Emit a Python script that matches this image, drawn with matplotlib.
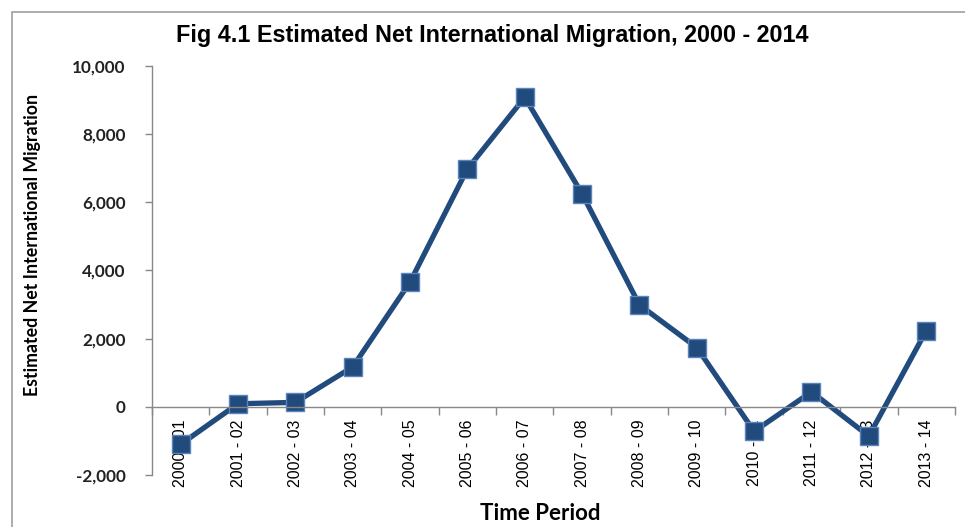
import matplotlib.pyplot as plt
from matplotlib.patches import Rectangle
from matplotlib.ticker import FuncFormatter, FixedLocator

# ------------ data ----------
periods = ["2000 - 01", "2001 - 02", "2002 - 03", "2003 - 04", "2004 - 05",
           "2005 - 06", "2006 - 07", "2007 - 08", "2008 - 09", "2009 - 10",
           "2010 - 11", "2011 - 12", "2012 - 13", "2013 - 14"]
net_migration = [-1100, 90, 130, 1170, 3660, 6980, 9080, 6250, 2990, 1740,
                 -720, 440, -860, 2230]
y_ticks = [-2000, 0, 2000, 4000, 6000, 8000, 10000]

line_color = "#214a7d"
axis_color = "#888888"

fig = plt.figure(figsize=(9.65, 5.27), dpi=100)
ax = fig.add_axes([0.1575, 0.0987, 0.832, 0.7761])

x = list(range(len(periods)))
ax.plot(x, net_migration, color=line_color, lw=3.8, marker="s", ms=12.5,
        mfc=line_color, mec="#5a84bb", mew=1.0, solid_joinstyle="miter")

ax.set_xlim(-0.5, len(periods) - 0.5)
ax.set_ylim(-2000, 10000)

# y axis
ax.yaxis.set_major_locator(FixedLocator(y_ticks))
ax.yaxis.set_major_formatter(FuncFormatter(lambda v, p: f"{int(v):,}"))
ax.tick_params(axis="y", direction="out", length=5, width=1, color=axis_color,
               pad=14, labelsize=12.3, labelcolor="#222222")
for lab in ax.get_yticklabels():
    lab.set_fontfamily("Lato")
    lab.set_fontweight("bold")

# x axis sits on zero, marks between categories
ax.spines["bottom"].set_position(("data", 0))
ax.set_xticks(x)
ax.set_xticklabels(periods, rotation=90, fontsize=11.5, family="Liberation Sans",
                   va="top")
ax.set_xticks([i - 0.5 for i in range(len(periods) + 1)], minor=True)
ax.tick_params(axis="x", which="major", length=0, pad=9)
ax.tick_params(axis="x", which="minor", direction="out", length=6, width=1,
               color=axis_color)

for s in ["top", "right"]:
    ax.spines[s].set_visible(False)
for s in ["left", "bottom"]:
    ax.spines[s].set_color(axis_color)
    ax.spines[s].set_linewidth(1)

# titles
fig.text(0.51, 0.933, "Fig 4.1 Estimated Net International Migration, 2000 - 2014",
         ha="center", va="center", fontsize=16.8, fontweight="bold",
         family="Liberation Sans")
fig.text(0.034, 0.535, "Estimated Net International Migration", rotation=90,
         ha="center", va="center", fontsize=12.8, fontweight="bold", family="Lato")
fig.text(0.56, 0.025, "Time Period", ha="center", va="center", fontsize=16,
         fontweight="bold", family="Lato")

# outer chart border
fig.patches.append(Rectangle((12 / 965, -0.05), 1.1, 1 - 12 / 527 + 0.05,
                             transform=fig.transFigure, fill=False,
                             ec="#a0a0a0", lw=1.2))

fig.savefig("out.png", dpi=100)
